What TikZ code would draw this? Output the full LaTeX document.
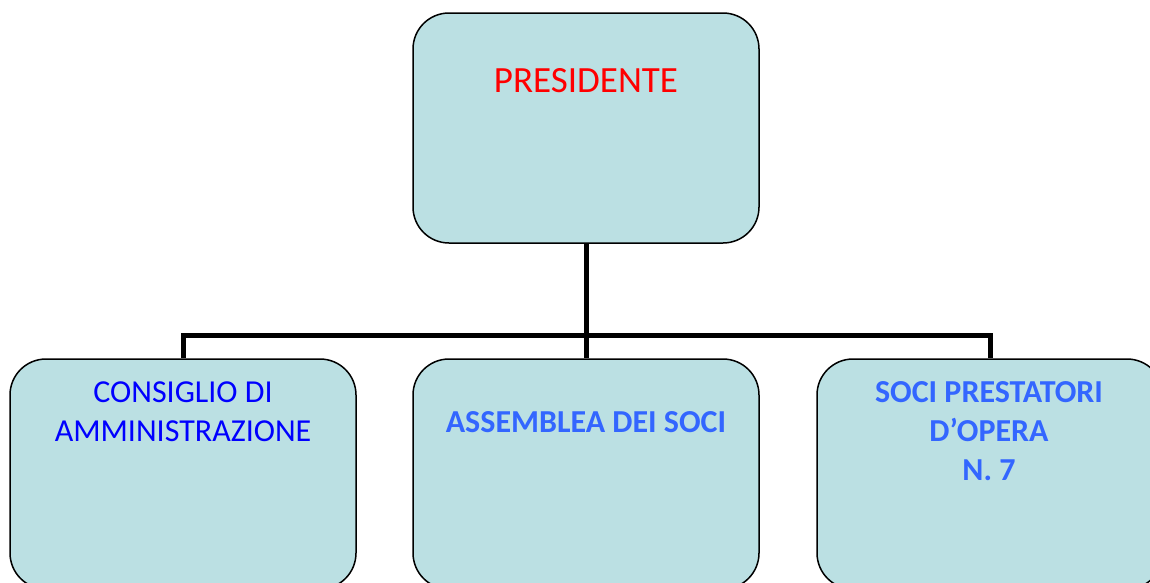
\documentclass[tikz,border=0pt]{standalone}
\usepackage{fontspec}
\setmainfont{Carlito}
\definecolor{boxfill}{HTML}{BBE0E3}
\definecolor{softblue}{HTML}{3366FF}
\tikzset{
    orgbox/.style={draw=black, line width=1.5pt, fill=boxfill, rounded corners=36pt,
        minimum width=346pt, minimum height=230pt, inner sep=0pt},
    link/.style={draw=black, line width=5pt},
    orgtext/.style={anchor=base, align=center, inner sep=0pt}
}
\begin{document}
\begin{tikzpicture}[x=1pt, y=-1pt]
        \useasboundingbox (0,0) rectangle (1150,582);
        
        \node[orgbox] (pres) at (586,128) {};
        \node[orgbox] (cda) at (183,474) {};
        \node[orgbox] (ads) at (586,474) {};
        \node[orgbox] (spo) at (990,474) {};
        \coordinate (bus) at (586,335);
        
        \draw[link] (pres.south) -- (ads.north);
        \draw[link] (cda.north) |- (bus) -| (spo.north);
        
        \node[orgtext, text=red, font=\fontsize{37}{44}\selectfont] (presT) at (586,92) {PRESIDENTE};
        \node[orgtext, text=blue, font=\fontsize{32}{39}\selectfont] (cdaT) at (183,441) {CONSIGLIO DI\\AMMINISTRAZIONE};
        \node[orgtext, text=softblue, font=\fontsize{32}{39}\selectfont\bfseries] (adsT) at (586,432) {ASSEMBLEA DEI SOCI};
        \node[orgtext, text=softblue, font=\fontsize{32}{39}\selectfont\bfseries] (spoT) at (989,480) {SOCI PRESTATORI\\D’OPERA\\N. 7};
    \end{tikzpicture}
\end{document}
